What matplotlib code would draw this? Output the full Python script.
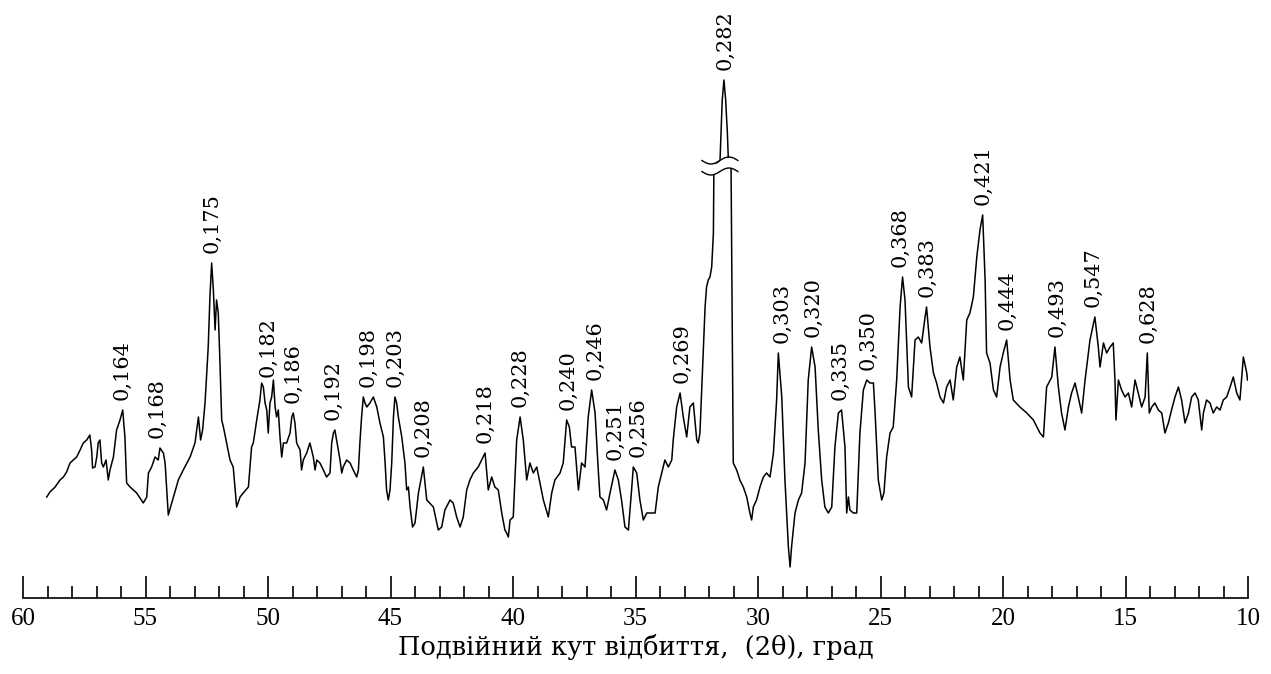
import matplotlib
matplotlib.use("Agg")
import matplotlib.pyplot as plt
import numpy as np

# Diffraction angle 2θ (degrees) and relative intensity of the recorded pattern
two_theta = [
    59.03, 58.90, 58.69, 58.49, 58.35, 58.22, 58.08, 57.95, 57.81, 57.67,
    57.54, 57.40, 57.27, 57.20, 57.16, 57.06, 56.99, 56.93, 56.86, 56.79,
    56.72, 56.61, 56.52, 56.45, 56.31, 56.18, 56.04, 55.93, 55.84, 55.77,
    55.63, 55.36, 55.09, 54.95, 54.88, 54.75, 54.61, 54.48, 54.41, 54.27,
    54.20, 54.07, 53.86, 53.66, 53.46, 53.18, 52.98, 52.84, 52.75, 52.67,
    52.57, 52.44, 52.37, 52.30, 52.23, 52.16, 52.10, 52.03, 51.96, 51.89,
    51.82, 51.69, 51.55, 51.42, 51.28, 51.14, 51.01, 50.80, 50.67, 50.60,
    50.46, 50.33, 50.26, 50.19, 50.12, 50.05, 49.99, 49.92, 49.85, 49.78,
    49.71, 49.65, 49.58, 49.51, 49.44, 49.37, 49.24, 49.10, 49.03, 48.97,
    48.90, 48.83, 48.69, 48.63, 48.56, 48.42, 48.29, 48.15, 48.08, 48.01,
    47.88, 47.74, 47.61, 47.47, 47.40, 47.33, 47.27, 47.20, 47.06, 46.99,
    46.93, 46.79, 46.65, 46.52, 46.38, 46.31, 46.25, 46.18, 46.11, 46.04,
    45.97, 45.84, 45.70, 45.56, 45.43, 45.29, 45.22, 45.16, 45.09, 45.02,
    44.95, 44.88, 44.82, 44.75, 44.68, 44.54, 44.41, 44.34, 44.27, 44.20,
    44.10, 44.00, 43.86, 43.66,
    43.52, 43.25, 43.05, 42.91, 42.78, 42.57, 42.44, 42.30, 42.16, 42.03,
    41.89, 41.76, 41.62, 41.42, 41.28, 41.14, 41.01, 40.87, 40.74, 40.60,
    40.46, 40.33, 40.26, 40.19, 40.12, 39.99, 39.85, 39.71, 39.58, 39.44,
    39.31, 39.17, 39.03, 38.90, 38.76, 38.56, 38.42, 38.29, 38.08, 37.95,
    37.81, 37.70, 37.61, 37.47, 37.33, 37.20, 37.06, 36.93, 36.79, 36.65,
    36.52, 36.45, 36.31, 36.18, 36.04, 35.84, 35.70, 35.57, 35.43, 35.29,
    35.16, 35.09, 34.95, 34.82, 34.68, 34.54, 34.34, 34.20, 34.07, 33.93,
    33.80, 33.66, 33.52, 33.46, 33.32, 33.18, 33.05, 32.91, 32.78, 32.64,
    32.50, 32.44, 32.37, 32.23, 32.16,
    32.10, 32.03, 31.96, 31.89, 31.82, 31.80, 31.55, 31.51, 31.46, 31.39,
    31.32, 31.25, 31.21, 31.10, 31.08,
    31.01, 30.87, 30.74, 30.60, 30.46, 30.33, 30.26, 30.19, 30.06, 29.92,
    29.78, 29.65, 29.51, 29.37, 29.24,
    29.17, 29.03, 28.90, 28.76, 28.69, 28.63, 28.49, 28.35, 28.22, 28.08,
    27.95, 27.81, 27.67, 27.54, 27.40, 27.27, 27.13, 26.99, 26.86, 26.72,
    26.59, 26.45, 26.38, 26.31, 26.25, 26.11, 25.97, 25.84, 25.70, 25.56,
    25.43, 25.29, 25.22, 25.09, 24.95, 24.86, 24.75, 24.61, 24.48, 24.34,
    24.20, 24.10, 24.00, 23.86, 23.73, 23.59, 23.46, 23.32, 23.18, 23.12,
    22.98, 22.84, 22.71, 22.57, 22.43, 22.30, 22.16, 22.03, 21.89, 21.76,
    21.62, 21.48, 21.35, 21.21, 21.07, 20.94, 20.83, 20.73, 20.67, 20.53,
    20.39, 20.26, 20.12, 19.99, 19.85, 19.71, 19.58, 19.31, 19.03, 18.76,
    18.49, 18.35, 18.22, 18.01, 17.88, 17.74, 17.61, 17.47, 17.33, 17.20,
    17.06, 16.93, 16.79, 16.65, 16.45, 16.25, 16.11, 16.04, 15.90, 15.77,
    15.63, 15.50, 15.43, 15.39, 15.29, 15.16, 15.02, 14.88, 14.75, 14.61,
    14.48, 14.34, 14.20, 14.11, 14.03, 13.93, 13.80, 13.66, 13.52, 13.39,
    13.25, 13.12, 12.98, 12.84, 12.71, 12.57, 12.43, 12.30, 12.16, 12.03,
    11.89, 11.82, 11.69, 11.55, 11.42, 11.28, 11.14, 11.01, 10.87, 10.73,
    10.60, 10.46, 10.33, 10.19, 10.05, 10.02,
]
intensity = [
    103, 108, 113, 120, 123, 128, 137, 140, 143, 150,
    157, 160, 165, 150, 132, 133, 143, 157, 160, 137,
    133, 140, 120, 130, 143, 170, 180, 190, 163, 117,
    113, 107, 97, 103, 127, 133, 143, 140, 152, 147,
    137, 85, 103, 120, 130, 143, 157, 183, 160, 170,
    197, 253, 303, 337, 310, 270, 300, 287, 237, 180,
    173, 157, 140, 133, 93, 103, 107, 113, 153, 157,
    180, 200, 217, 213, 197, 190, 167, 197, 203, 220,
    193, 183, 190, 163, 143, 157, 157, 167, 183, 187,
    177, 157, 150, 130, 140, 147, 157, 143, 130, 140,
    137, 130, 123, 127, 157, 167, 170, 160, 140, 127,
    133, 140, 137, 130, 123, 130, 157, 183, 203, 197,
    193, 197, 203, 193, 177, 163, 137, 110, 100, 110,
    137, 183, 203, 197, 183, 163, 137, 110, 113, 93,
    73, 77, 107, 133,
    100, 93, 70, 73, 90, 100, 97, 83, 73, 83,
    110, 120, 127, 133, 140, 147, 110, 123, 113, 110,
    87, 70, 67, 63, 80, 83, 160, 183, 160, 120,
    137, 127, 133, 117, 100, 83, 107, 120, 127, 137,
    180, 173, 153, 153, 110, 137, 133, 183, 210, 187,
    130, 103, 100, 90, 107, 130, 120, 100, 73, 70,
    110, 133, 127, 100, 80, 87, 87, 87, 113, 127,
    140, 133, 140, 160, 193, 207, 183, 163, 193, 197,
    160, 157, 167, 250, 293,
    313, 320, 323, 333, 367, 433, 440, 467, 500, 520,
    500, 467, 440, 433, 367,
    137, 130, 120, 113, 103, 87, 80, 93, 100, 113,
    123, 127, 123, 147, 200,
    247, 203, 120, 53, 33, 53, 87, 100, 107, 137,
    220, 253, 233, 170, 120, 93, 87, 93, 153, 187,
    190, 153, 87, 103, 90, 87, 87, 167, 210, 220,
    217, 217, 187, 120, 100, 107, 143, 167, 173, 220,
    293, 323, 300, 213, 203, 260, 263, 257, 283, 293,
    253, 227, 217, 203, 197, 213, 220, 200, 233, 243,
    220, 280, 287, 303, 343, 370, 385, 320, 247, 237,
    210, 203, 233, 247, 260, 220, 200, 193, 187, 180,
    167, 163, 213, 223, 253, 213, 187, 170, 193, 207,
    217, 203, 187, 220, 260, 283, 253, 233, 257, 247,
    253, 257, 220, 180, 220, 210, 203, 207, 193, 220,
    207, 193, 203, 247, 187, 193, 197, 190, 187, 167,
    177, 190, 203, 213, 200, 177, 187, 203, 207, 200,
    170, 187, 200, 197, 187, 193, 190, 200, 203, 213,
    223, 207, 200, 243, 227, 220,
]

# Interplanar spacings d (nm) marked over the reflections, and their 2θ
d_labels = [
    "0,164", "0,168", "0,175", "0,182", "0,186", "0,192", "0,198",
    "0,203", "0,208", "0,218", "0,228", "0,240", "0,246", "0,251",
    "0,256", "0,269", "0,282", "0,303", "0,320", "0,335", "0,350",
    "0,368", "0,383", "0,421", "0,444", "0,493", "0,547", "0,628",
]
d_two_theta = [
    55.96, 54.53, 52.29, 50.00, 48.98, 47.35, 45.92,
    44.82, 43.67, 41.14, 39.71, 37.76, 36.65, 35.84,
    34.90, 33.10, 31.35, 29.02, 27.76, 26.65, 25.51,
    24.20, 23.10, 20.82, 19.84, 17.80, 16.33, 14.08,
]

# level where the strongest reflection is drawn with a break
BREAK_LEVEL = 434

tt = np.array(two_theta)
ii = np.array(intensity)

fig = plt.figure(figsize=(12.71, 6.74), dpi=100)
ax = fig.add_axes([23 / 1271, 76 / 674, 1225 / 1271, 598 / 674])

ax.plot(tt, ii, color="black", linewidth=1.1, zorder=2)

# ── d-spacing labels above the peaks ─────────────────────────────────────
for lab, pos in zip(d_labels, d_two_theta):
    near = np.abs(tt - pos) <= 0.2
    top = ii[near].max()
    ax.annotate(lab, xy=(pos, top), xytext=(0, 7), textcoords="offset points",
                rotation=90, ha="center", va="bottom",
                fontsize=15, family="DejaVu Serif", zorder=5)

# ── break mark on the main peak ──────────────────────────────────────────
peak = d_two_theta[d_labels.index("0,282")]
xs = np.linspace(peak + 0.94, peak - 0.53, 80)
phase = (xs - xs[0]) / (xs[-1] - xs[0])
wave = 3.5 * np.sin(2 * np.pi * phase + np.pi)
ax.fill_between(xs, BREAK_LEVEL - 5 + wave, BREAK_LEVEL + 5 + wave,
                color="white", zorder=3, linewidth=0)
ax.plot(xs, BREAK_LEVEL + 5.5 + wave, color="black", linewidth=1.0, zorder=4)
ax.plot(xs, BREAK_LEVEL - 5.5 + wave, color="black", linewidth=1.0, zorder=4)

ax.set_xlim(60, 10)
ax.set_ylim(2, 600)
for side in ("left", "right", "top"):
    ax.spines[side].set_visible(False)
ax.spines["bottom"].set_linewidth(1.2)
ax.set_yticks([])
ax.set_xticks(np.arange(10, 61, 5))
ax.set_xticks(np.arange(10, 61, 1), minor=True)
ax.set_xticklabels([str(v) for v in range(10, 61, 5)],
                   family="Liberation Serif", fontsize=18)
ax.tick_params(axis="x", which="major", direction="in", length=16,
               width=1.2, pad=7)
ax.tick_params(axis="x", which="minor", direction="in", length=8.5,
               width=1.2)
ax.set_xlabel("Подвійний кут відбиття,  (2θ), град",
              family="DejaVu Serif", fontsize=18.5, labelpad=3)

fig.savefig("out.png", dpi=100)
